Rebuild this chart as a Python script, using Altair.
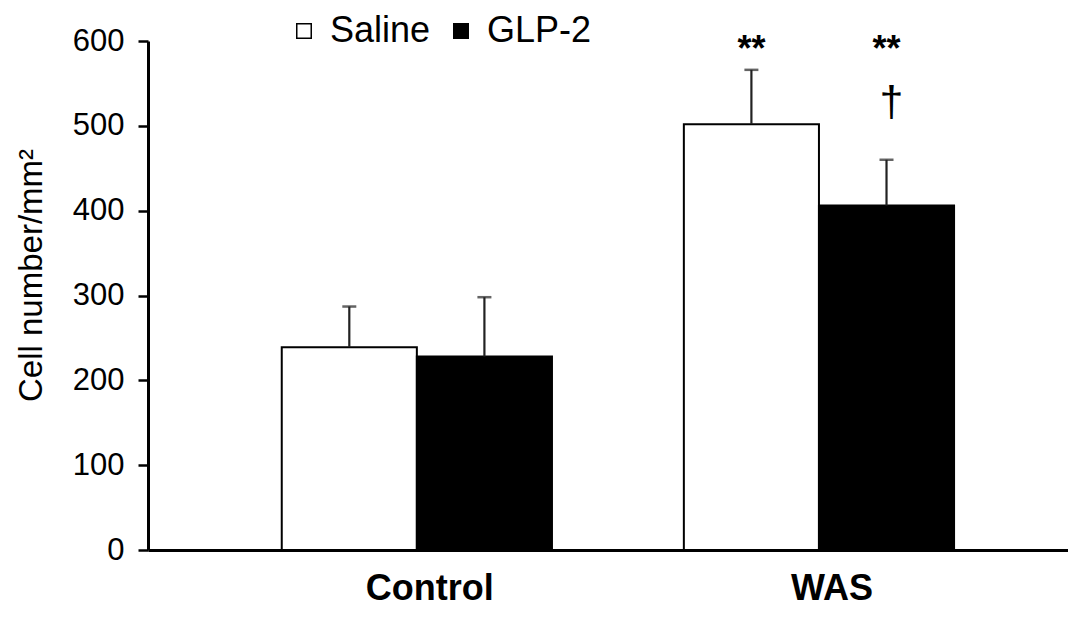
import altair as alt
import pandas as pd

groups = ["Control", "Control", "WAS", "WAS"]
treatments = ["Saline", "GLP-2", "Saline", "GLP-2"]
means = [239, 228, 502, 406]
errors = [48, 70, 64, 54]

star_groups = ["WAS", "WAS"]
star_treatments = ["Saline", "GLP-2"]
star_texts = ["**", "**"]
star_values = [577, 577]

dagger_groups = ["WAS"]
dagger_treatments = ["GLP-2"]
dagger_texts = ["†"]
dagger_values = [527]

legend_order = ["Saline", "GLP-2"]
fill_colors = ["white", "black"]
group_order = ["Control", "WAS"]

df = pd.DataFrame({"group": groups, "treatment": treatments, "mean": means, "err": errors})
df["top"] = df["mean"] + df["err"]
stars_df = pd.DataFrame({"group": star_groups, "treatment": star_treatments,
                         "text": star_texts, "value": star_values})
dagger_df = pd.DataFrame({"group": dagger_groups, "treatment": dagger_treatments,
                          "text": dagger_texts, "value": dagger_values})

FONT = "Liberation Sans"

x = alt.X("group:N", sort=group_order, title=None,
          scale=alt.Scale(paddingInner=0.328, paddingOuter=0.308, align=0.54),
          axis=alt.Axis(labelAngle=0, ticks=False, labelFontSize=36, labelFontWeight="bold",
                        labelColor="black", labelPadding=21, labelOffset=13,
                        domainColor="black", domainWidth=3, labelFont=FONT))
xo = alt.XOffset("treatment:N", sort=legend_order, scale=alt.Scale(paddingInner=0, paddingOuter=0))
y = alt.Y("mean:Q", title="Cell number/mm²",
          scale=alt.Scale(domain=[0, 600], nice=False),
          axis=alt.Axis(values=[0, 100, 200, 300, 400, 500, 600], tickSize=10, tickWidth=2.5,
                        tickColor="black", domainColor="black", domainWidth=3, grid=False,
                        labelFontSize=31, labelColor="black", labelPadding=14, labelFont=FONT,
                        titleFontSize=33, titleFontWeight="normal", titleColor="black",
                        titlePadding=24, titleFont=FONT, titleY=234))

bars = alt.Chart(df).mark_bar(stroke="black", strokeWidth=2).encode(
    x=x, xOffset=xo, y=y,
    fill=alt.Fill("treatment:N", sort=legend_order,
                  scale=alt.Scale(domain=legend_order, range=fill_colors),
                  legend=alt.Legend(title=None, orient="none", legendX=138, legendY=-28,
                                    direction="horizontal", symbolType="square", symbolSize=210,
                                    symbolStrokeColor="black", symbolStrokeWidth=1.5,
                                    labelFontSize=36, labelFont=FONT, labelColor="black",
                                    labelOffset=8, columnPadding=12, padding=0)),
)

stems = alt.Chart(df).mark_rule(color="#222", strokeWidth=2.2).encode(
    x=x, xOffset=xo, y="mean:Q", y2="top:Q")

caps = alt.Chart(df).mark_tick(color="#222", thickness=2.5, size=14, orient="horizontal").encode(
    x=x, xOffset=xo, y="top:Q")

stars = alt.Chart(stars_df).mark_text(
    fontSize=36, fontWeight="bold", font=FONT, color="black", baseline="alphabetic").encode(
    x=x, xOffset=xo, y="value:Q", text="text:N")

dagger = alt.Chart(dagger_df).mark_text(
    fontSize=43, font=FONT, color="black", baseline="middle", dx=5).encode(
    x=x, xOffset=xo, y="value:Q", text="text:N")

chart = alt.layer(bars, stems, caps, stars, dagger).properties(
    width=920, height=509,
    autosize=alt.AutoSizeParams(type="none"),
    padding={"left": 140, "top": 33, "right": 0, "bottom": 60},
).configure(background="white").configure_view(stroke=None)

chart.save("out.html", embed_options={"renderer": "svg", "actions": False})
